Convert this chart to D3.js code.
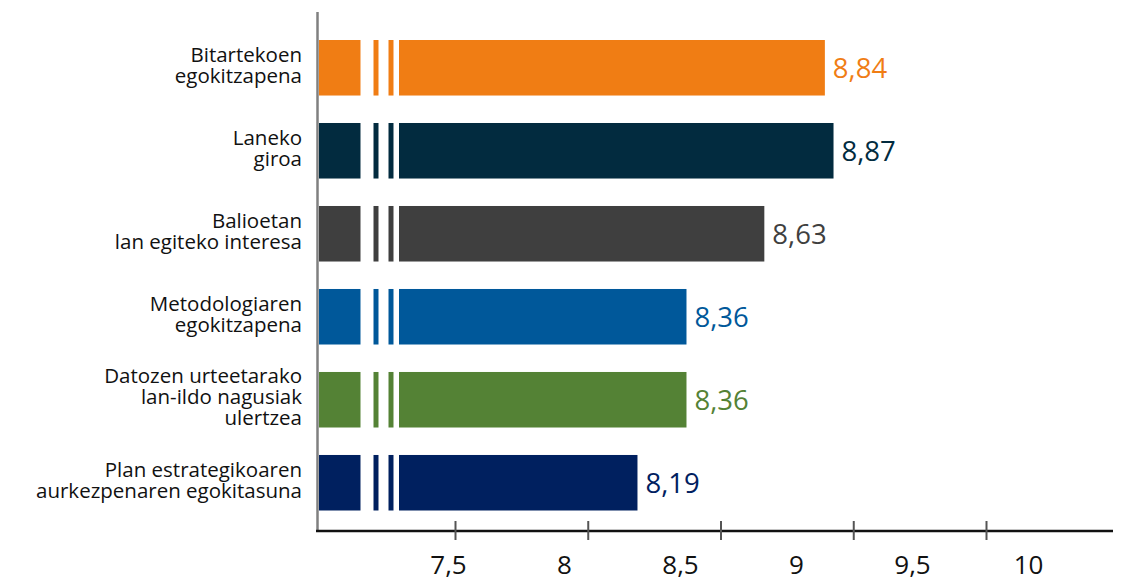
<!DOCTYPE html>
<html>
<head>
<meta charset="utf-8">
<script src="https://cdn.jsdelivr.net/npm/d3@7"></script>
<style>
  body { margin: 0; background: #fff; }
  svg { display: block; font-family: "Open Sans", sans-serif; }
</style>
</head>
<body>
<svg width="1125" height="583"></svg>
<script>
let categories = [
	['Bitartekoen', 'egokitzapena'],
	['Laneko', 'giroa'],
	['Balioetan', 'lan egiteko interesa'],
	['Metodologiaren', 'egokitzapena'],
	['Datozen urteetarako', 'lan-ildo nagusiak', 'ulertzea'],
	['Plan estrategikoaren', 'aurkezpenaren egokitasuna']];
let values = [8.84, 8.87, 8.63, 8.36, 8.36, 8.19];
let colors = ['#f07d14', '#022b3f', '#3f3f3f', '#00589a', '#548235', '#00205f'];
let tickMarks = [7.5, 8, 8.5, 9, 9.5];
let tickLabels = [7.5, 8, 8.5, 9, 9.5, 10];

let svg = d3.select('svg');
let x0 = 319, axisY = 531;
let fmt = d => String(d).replace('.', ',');

// bar scale (broken axis, bars start at the y axis)
let xBar = d3.scaleLinear().domain([8, 9]).range([582.7, 871]);
let y = d3.scaleBand()
	.domain(d3.range(values.length))
	.range([40, 510.5])
	.paddingInner(0.331)
	.paddingOuter(0);

svg.append('g')
	.selectAll('rect')
	.data(values)
	.join('rect')
	.attr('x', x0)
	.attr('y', (d, i) => y(i))
	.attr('width', d => xBar(d) - x0)
	.attr('height', y.bandwidth())
	.attr('fill', (d, i) => colors[i]);

// axis break gaps
let gaps = [[360.5, 373.5], [378.5, 388.5], [393.5, 399]];
svg.append('g')
	.selectAll('g')
	.data(values)
	.join('g')
	.selectAll('rect')
	.data((d, i) => gaps.map(g => ({ g: g, i: i })))
	.join('rect')
	.attr('x', d => d.g[0])
	.attr('y', d => y(d.i) - 1)
	.attr('width', d => d.g[1] - d.g[0])
	.attr('height', y.bandwidth() + 2)
	.attr('fill', '#fff');

// value labels
svg.append('g')
	.selectAll('text')
	.data(values)
	.join('text')
	.attr('x', d => xBar(d) + 8)
	.attr('y', (d, i) => y(i) + y.bandwidth() / 2)
	.attr('dy', '0.36em')
	.attr('font-size', 27.5)
	.attr('fill', (d, i) => colors[i])
	.text(fmt);

// category labels, one text per line
let lineH = 21;
svg.append('g')
	.selectAll('g')
	.data(categories)
	.join('g')
	.each(function(lines, i) {
		let cy = y(i) + y.bandwidth() / 2 - 3;
		let top = cy - (lines.length - 1) * lineH / 2;
		d3.select(this)
			.selectAll('text')
			.data(lines)
			.join('text')
			.attr('text-anchor', 'end')
			.attr('font-size', 20.5)
			.attr('fill', '#111')
			.attr('x', 302)
			.attr('y', (l, j) => top + j * lineH)
			.attr('dy', '0.36em')
			.text(l => l);
	});

// y axis line
svg.append('line')
	.attr('x1', 317.5).attr('x2', 317.5)
	.attr('y1', 12).attr('y2', axisY)
	.attr('stroke', '#808080')
	.attr('stroke-width', 2.5);

// x axis line
svg.append('line')
	.attr('x1', 316).attr('x2', 1113)
	.attr('y1', axisY).attr('y2', axisY)
	.attr('stroke', '#111')
	.attr('stroke-width', 2.5);

// tick marks
let xTick = d3.scaleLinear().domain([7.5, 9.5]).range([455, 986]);
let tickG = svg.append('g')
	.attr('transform', `translate(0,${axisY - 10})`)
	.call(d3.axisBottom(xTick).tickValues(tickMarks).tickSize(19).tickFormat(''));
tickG.select('.domain').remove();
tickG.selectAll('.tick line').attr('stroke', '#555').attr('stroke-width', 2);

// tick labels
let xLab = d3.scaleLinear().domain([7.5, 10]).range([448, 1028]);
let labG = svg.append('g')
	.attr('transform', `translate(0,${axisY + 25})`)
	.call(d3.axisBottom(xLab).tickValues(tickLabels).tickSize(0).tickPadding(0).tickFormat(fmt));
labG.select('.domain').remove();
labG.selectAll('.tick text')
	.attr('font-family', '"Open Sans", sans-serif')
	.attr('font-size', 26)
	.attr('fill', '#111');
</script>
</body>
</html>
